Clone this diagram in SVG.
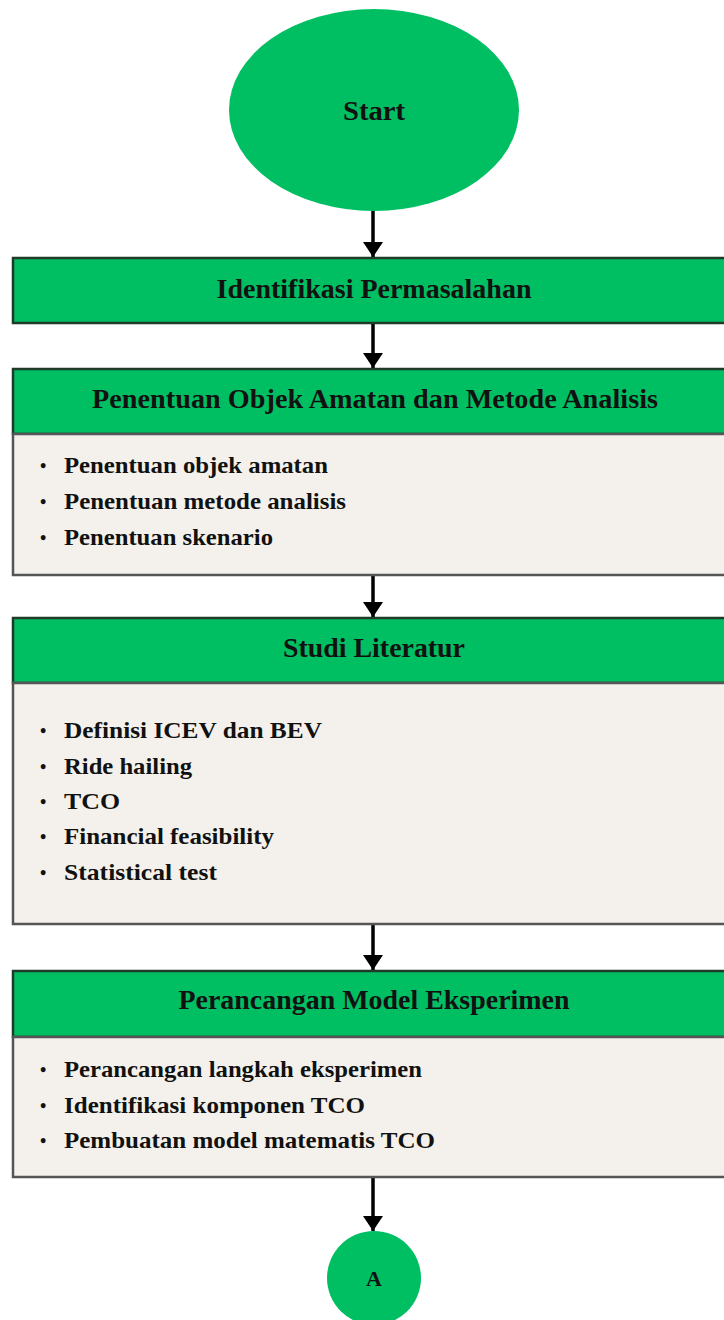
<svg xmlns="http://www.w3.org/2000/svg" width="724" height="1320" viewBox="0 0 724 1320">
<defs>
<style>
.term{fill:#00BF63;}
.hdr{fill:#00BF63;stroke:#1E3B2A;stroke-width:2.5;}
.body{fill:#F4F1EC;stroke:#555555;stroke-width:2.5;}
.ht{font-family:"Liberation Serif","Times New Roman",serif;font-weight:bold;font-size:28px;fill:#111;text-anchor:middle;}
.it{font-family:"Liberation Serif","Times New Roman",serif;font-weight:bold;font-size:23px;fill:#111;}
.bl{font-family:"Liberation Serif","Times New Roman",serif;font-weight:bold;font-size:18px;fill:#111;}
.conn{stroke:#000;stroke-width:3.5;fill:none;marker-end:url(#ah);}
</style>
<marker id="ah" markerUnits="userSpaceOnUse" markerWidth="20" markerHeight="16" refX="10" refY="15" orient="auto-angle" viewBox="0 0 20 16">
<path d="M0,0 L20,0 L10,15 Z" fill="#000"/>
</marker>
</defs>
<g id="connectors">
<path class="conn" d="M373,210 V257"/>
<path class="conn" d="M373,323 V368"/>
<path class="conn" d="M373,575 V617"/>
<path class="conn" d="M373,924 V970"/>
<path class="conn" d="M373,1177 V1231"/>
</g>
<g id="start">
<ellipse class="term" cx="374" cy="110" rx="145" ry="101"/>
<text class="ht" x="374" y="120" textLength="62" lengthAdjust="spacingAndGlyphs">Start</text>
</g>
<g id="identifikasi">
<rect class="hdr" x="13" y="258" width="720" height="65"/>
<text class="ht" x="374" y="298" textLength="315" lengthAdjust="spacingAndGlyphs">Identifikasi Permasalahan</text>
</g>
<g id="penentuan">
<rect class="hdr" x="13" y="369" width="720" height="65"/>
<text class="ht" x="375" y="408" textLength="566" lengthAdjust="spacingAndGlyphs">Penentuan Objek Amatan dan Metode Analisis</text>
<rect class="body" x="13" y="434" width="720" height="141"/>
<text class="bl" x="40" y="472">•</text>
<text class="it" x="64" y="473" textLength="264" lengthAdjust="spacingAndGlyphs">Penentuan objek amatan</text>
<text class="bl" x="40" y="508">•</text>
<text class="it" x="64" y="509" textLength="282" lengthAdjust="spacingAndGlyphs">Penentuan metode analisis</text>
<text class="bl" x="40" y="544">•</text>
<text class="it" x="64" y="545" textLength="209" lengthAdjust="spacingAndGlyphs">Penentuan skenario</text>
</g>
<g id="studi">
<rect class="hdr" x="13" y="618" width="720" height="65"/>
<text class="ht" x="374" y="657" textLength="182" lengthAdjust="spacingAndGlyphs">Studi Literatur</text>
<rect class="body" x="13" y="683" width="720" height="241"/>
<text class="bl" x="40" y="737">•</text>
<text class="it" x="64" y="738" textLength="258" lengthAdjust="spacingAndGlyphs">Definisi ICEV dan BEV</text>
<text class="bl" x="40" y="773">•</text>
<text class="it" x="64" y="774" textLength="128" lengthAdjust="spacingAndGlyphs">Ride hailing</text>
<text class="bl" x="40" y="808">•</text>
<text class="it" x="64" y="809" textLength="56" lengthAdjust="spacingAndGlyphs">TCO</text>
<text class="bl" x="40" y="843">•</text>
<text class="it" x="64" y="844" textLength="210" lengthAdjust="spacingAndGlyphs">Financial feasibility</text>
<text class="bl" x="40" y="879">•</text>
<text class="it" x="64" y="880" textLength="153" lengthAdjust="spacingAndGlyphs">Statistical test</text>
</g>
<g id="perancangan">
<rect class="hdr" x="13" y="971" width="720" height="66"/>
<text class="ht" x="374" y="1009" textLength="391" lengthAdjust="spacingAndGlyphs">Perancangan Model Eksperimen</text>
<rect class="body" x="13" y="1037" width="720" height="140"/>
<text class="bl" x="40" y="1076">•</text>
<text class="it" x="64" y="1077" textLength="358" lengthAdjust="spacingAndGlyphs">Perancangan langkah eksperimen</text>
<text class="bl" x="40" y="1112">•</text>
<text class="it" x="64" y="1113" textLength="301" lengthAdjust="spacingAndGlyphs">Identifikasi komponen TCO</text>
<text class="bl" x="40" y="1147">•</text>
<text class="it" x="64" y="1148" textLength="371" lengthAdjust="spacingAndGlyphs">Pembuatan model matematis TCO</text>
</g>
<g id="connector-a">
<circle class="term" cx="374" cy="1278" r="47"/>
<text class="ht" x="374" y="1286" style="font-size:22px">A</text>
</g>
</svg>
